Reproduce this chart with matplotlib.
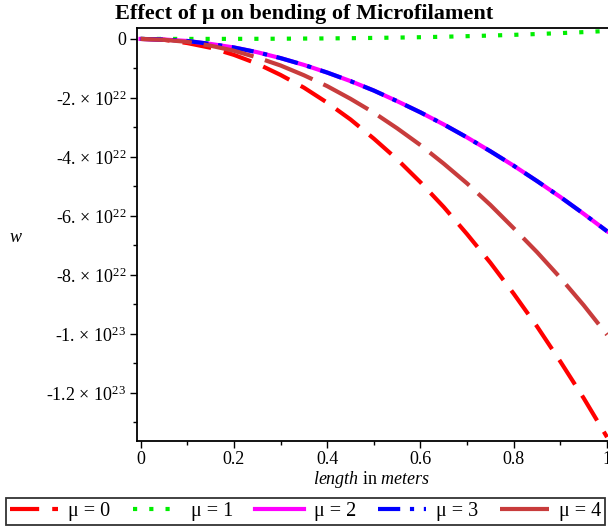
import numpy as np
import matplotlib
matplotlib.use("Agg")
import matplotlib.pyplot as plt
from matplotlib.ticker import FixedLocator, MultipleLocator

plt.rcParams['font.family'] = ['Liberation Serif', 'DejaVu Serif']
plt.rcParams['mathtext.fontset'] = 'custom'
plt.rcParams['mathtext.rm'] = 'Liberation Serif'
plt.rcParams['mathtext.it'] = 'Liberation Serif:italic'
plt.rcParams['mathtext.bf'] = 'Liberation Serif:bold'
plt.rcParams['lines.scale_dashes'] = False

# length along the filament (m)
x = [0.0, 0.05, 0.1, 0.15, 0.2, 0.25, 0.3, 0.35, 0.4, 0.45, 0.5,
     0.55, 0.6, 0.65, 0.7, 0.75, 0.8, 0.85, 0.9, 0.95, 1.0]

# deflection w, in units of 1e22
w_mu0 = [0, -0.03, -0.14, -0.30, -0.54, -0.84, -1.22, -1.65, -2.16, -2.73, -3.38,
         -4.08, -4.86, -5.70, -6.62, -7.59, -8.64, -9.75, -10.94, -12.18, -13.50]
w_mu1 = [0, 0, 0, 0.001, 0.002, 0.004, 0.007, 0.012, 0.017, 0.025, 0.034,
         0.045, 0.058, 0.074, 0.093, 0.114, 0.138, 0.166, 0.197, 0.231, 0.27]
w_mu2 = [0, -0.02, -0.07, -0.17, -0.29, -0.45, -0.65, -0.88, -1.14, -1.43, -1.75,
         -2.11, -2.49, -2.90, -3.34, -3.81, -4.30, -4.82, -5.36, -5.93, -6.52]
w_mu3 = w_mu2
w_mu4 = [0, -0.03, -0.10, -0.23, -0.40, -0.63, -0.90, -1.23, -1.60, -2.03, -2.50,
         -3.03, -3.60, -4.23, -4.90, -5.63, -6.42, -7.23, -8.10, -9.03, -10.03]

labels = ["μ = 0", "μ = 1", "μ = 2", "μ = 3", "μ = 4"]

ytick_vals = [0, -2e22, -4e22, -6e22, -8e22, -1e23, -1.2e23]
ytick_text = ["0", "-2. × 10$^{22}$", "-4. × 10$^{22}$", "-6. × 10$^{22}$",
              "-8. × 10$^{22}$", "-1. × 10$^{23}$", "-1.2 × 10$^{23}$"]
xtick_vals = [0, 0.2, 0.4, 0.6, 0.8, 1]
xtick_text = ["0", "0.2", "0.4", "0.6", "0.8", "1"]

fig = plt.figure(figsize=(6.08, 5.26), dpi=100)
ax = fig.add_axes([137.3 / 608, 1 - 441 / 526, (608 - 137.3) / 608, (441 - 28.3) / 526])

xs = np.array(x)
s = 1e22
lw = 3
ax.plot(xs, np.array(w_mu0) * s, color='#ff0000', lw=lw, ls=(0, (21, 9.4)), label=labels[0])
ax.plot(xs, np.array(w_mu1) * s, color='#00ee00', lw=lw, ls=(0, (3, 8.7)), label=labels[1])
ax.plot(xs, np.array(w_mu2) * s, color='#ff00ff', lw=lw, ls='-', label=labels[2])
ax.plot(xs, np.array(w_mu3) * s, color='#0000ff', lw=lw, ls=(0, (16, 7, 3, 7)), label=labels[3])
ax.plot(xs, np.array(w_mu4) * s, color='#c83c3c', lw=lw, ls=(0, (37, 8.6)), label=labels[4])

ax.set_xlim(-0.007, 1.002)
ax.set_ylim(-13.63e22, 0.36e22)

ax.yaxis.set_major_locator(FixedLocator(ytick_vals))
ax.set_yticklabels(ytick_text)
ax.yaxis.set_minor_locator(MultipleLocator(1e22))
ax.xaxis.set_major_locator(FixedLocator(xtick_vals))
ax.set_xticklabels(xtick_text)
ax.xaxis.set_minor_locator(MultipleLocator(0.1))

ax.tick_params(axis='both', which='major', direction='out', length=5, width=1,
               labelsize=13, pad=3)
ax.tick_params(axis='both', which='minor', direction='out', length=3, width=1)
ax.tick_params(axis='x', pad=2)
ax.spines['right'].set_visible(False)
for sp in ['left', 'bottom', 'top']:
    ax.spines[sp].set_linewidth(1.3)

fig.text(0.5, 1 - 14 / 526, "Effect of μ on bending of Microfilament",
         ha='center', va='center', fontsize=16, fontweight='bold')
fig.text(372 / 608, 1 - 479 / 526, r"$\it{length}$ in $\it{meters}$",
         ha='center', va='center', fontsize=13)
fig.text(16 / 608, 1 - 237 / 526, "w", ha='center', va='center',
         fontsize=13, style='italic')

leg = fig.legend(loc='lower left', ncol=5, mode='expand',
                 bbox_to_anchor=(6 / 608, 1 / 526, 599 / 608, 32 / 526),
                 borderaxespad=0, fontsize=14.5, handlelength=2.4,
                 handletextpad=0.5, fancybox=False, frameon=True,
                 borderpad=0.2)
leg.get_frame().set_edgecolor('black')
leg.get_frame().set_linewidth(1.3)

fig.savefig("out.png", dpi=100)
